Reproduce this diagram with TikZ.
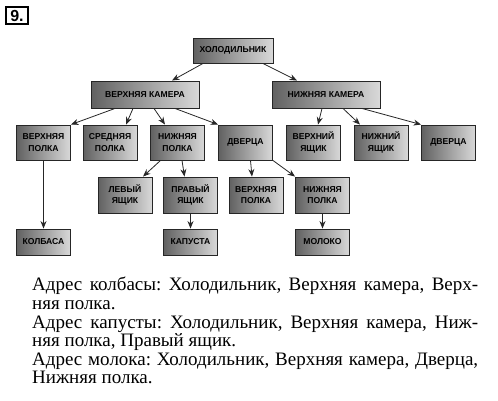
\documentclass[tikz,border=0pt]{standalone}
\usepackage{fontspec}
\setmainfont{Liberation Serif}
\newfontfamily\boxfont{Liberation Sans}
\usetikzlibrary{arrows.meta}
\frenchspacing

\begin{document}
\begin{tikzpicture}[x=1pt,y=-1pt,
  box/.style={draw=black!85,line width=0.9pt,left color=black!62,right color=black!15,
    align=center,inner sep=1pt,minimum width=54,minimum height=35,
    font=\boxfont\bfseries\fontsize{8.6}{11.5}\selectfont},
  arr/.style={draw=black!85,line width=0.8pt,-{Stealth[length=7.5pt,width=6pt]}}]
\useasboundingbox (0,0) rectangle (498,400);
\node[draw,line width=1.2pt,minimum width=22,minimum height=17,inner sep=0pt,
  font=\boxfont\bfseries\fontsize{16}{16}\selectfont] (num) at (17,15.5) {9.};

\node[box,minimum width=80,minimum height=25] (fridge) at (233,50.5) {ХОЛОДИЛЬНИК};
\node[box,minimum width=108,minimum height=27] (upcam) at (145,94.5) {ВЕРХНЯЯ КАМЕРА};
\node[box,minimum width=108,minimum height=27] (lowcam) at (326,94.5) {НИЖНЯЯ КАМЕРА};

\node[box] (upshelf) at (43.5,142.5) {ВЕРХНЯЯ\\ПОЛКА};
\node[box] (midshelf) at (110,142.5) {СРЕДНЯЯ\\ПОЛКА};
\node[box] (lowshelf) at (177.5,142.5) {НИЖНЯЯ\\ПОЛКА};
\node[box] (door) at (245.5,142.5) {ДВЕРЦА};
\node[box] (updrawer) at (313.5,142.5) {ВЕРХНИЙ\\ЯЩИК};
\node[box] (lowdrawer) at (381,142.5) {НИЖНИЙ\\ЯЩИК};
\node[box] (door2) at (448.5,142.5) {ДВЕРЦА};

\node[box,minimum height=36] (leftdrawer) at (125,195) {ЛЕВЫЙ\\ЯЩИК};
\node[box,minimum height=36] (rightdrawer) at (190.5,195) {ПРАВЫЙ\\ЯЩИК};
\node[box,minimum height=36] (doorup) at (256,195) {ВЕРХНЯЯ\\ПОЛКА};
\node[box,minimum height=36] (doorlow) at (322.5,195) {НИЖНЯЯ\\ПОЛКА};

\node[box,minimum height=26] (sausage) at (43.5,242) {КОЛБАСА};
\node[box,minimum height=26] (cabbage) at (190.5,242) {КАПУСТА};
\node[box,minimum height=26] (milk) at (322.5,242) {МОЛОКО};

\draw[arr] ([xshift=-30]fridge.south) -- ([xshift=27]upcam.north);
\draw[arr] ([xshift=30]fridge.south) -- ([xshift=-29]lowcam.north);
\draw[arr] ([xshift=-30]upcam.south) -- (upshelf.north east);
\draw[arr] ([xshift=-12]upcam.south) -- ([xshift=16]midshelf.north);
\draw[arr] ([xshift=9]upcam.south) -- ([xshift=-12.5]lowshelf.north);
\draw[arr] ([xshift=30]upcam.south) -- (door.north west);
\draw[arr] ([xshift=-4]lowcam.south) -- ([xshift=4.5]updrawer.north);
\draw[arr] ([xshift=17]lowcam.south) -- ([xshift=-21]lowdrawer.north);
\draw[arr] ([xshift=36]lowcam.south) -- (door2.north west);
\draw[arr] (upshelf) -- (sausage);
\draw[arr] ([xshift=-17]lowshelf.south) -- ([xshift=18]leftdrawer.north);
\draw[arr] ([xshift=4.5]lowshelf.south) -- ([xshift=-6]rightdrawer.north);
\draw[arr] (rightdrawer) -- (cabbage);
\draw[arr] ([xshift=5]door.south) -- ([xshift=-4]doorup.north);
\draw[arr] (door.south east) -- (doorlow.north west);
\draw[arr] (doorlow) -- (milk);

\node[anchor=north west,inner sep=0pt,text width=446pt,align=justify,
  font=\fontsize{19}{18.6}\selectfont] (addr) at (32,277) {Адрес колбасы: Холодильник, Верхняя камера, Верх-\linebreak
няя полка.\\
Адрес капусты: Холодильник, Верхняя камера, Ниж-\linebreak
няя полка, Правый ящик.\\
Адрес молока: Холодильник, Верхняя камера, Дверца,\linebreak
Нижняя полка.};
\end{tikzpicture}
\end{document}
